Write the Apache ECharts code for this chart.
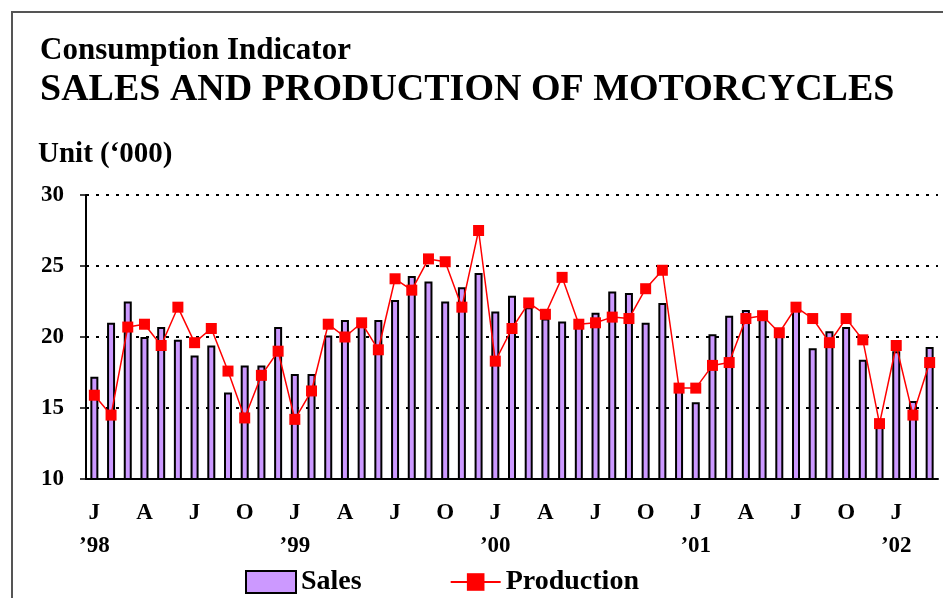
<!DOCTYPE html>
<html>
<head>
<meta charset="utf-8">
<script src="https://cdn.jsdelivr.net/npm/echarts@6/dist/echarts.min.js"></script>
<style>
  html, body { margin: 0; padding: 0; background: #fff; }
  #main { width: 943px; height: 598px; }
</style>
</head>
<body>
<div id="main"></div>
<script>
// month labels shown on the axis (Jan, Apr, Jul, Oct) and years under January
var quarterLetters = ['J', 'A', 'J', 'O']
var years = ['\u201998', '\u201999', '\u201900', '\u201901', '\u201902']
var monthCount = 51 // Jan 1998 - Mar 2002

// Sales ('000 units)
var sales = [
  17.2, 21.0, 22.5, 20.0, 20.7, 19.8, 18.7, 19.4, 16.1, 18.0, 18.0, 20.7,
  17.4, 17.4, 20.1, 21.2, 21.1, 21.2, 22.6, 24.3, 23.9, 22.5, 23.5, 24.5,
  21.8, 22.9, 22.1, 21.3, 21.1, 21.1, 21.7, 23.2, 23.1, 21.0, 22.4, 16.2,
  15.4, 20.2, 21.5, 21.9, 21.3, 20.1, 21.9, 19.2, 20.4, 20.7, 18.4, 13.7,
  19.0, 15.5, 19.3
]
// Production ('000 units)
var production = [
  15.9, 14.5, 20.7, 20.9, 19.4, 22.1, 19.6, 20.6, 17.6, 14.3, 17.3, 19.0,
  14.2, 16.2, 20.9, 20.0, 21.0, 19.1, 24.1, 23.3, 25.5, 25.3, 22.1, 27.5,
  18.3, 20.6, 22.4, 21.6, 24.2, 20.9, 21.0, 21.4, 21.3, 23.4, 24.7, 16.4,
  16.4, 18.0, 18.2, 21.3, 21.5, 20.3, 22.1, 21.3, 19.6, 21.3, 19.8, 13.9,
  19.4, 14.5, 18.2
]

var categories = []
for (var i = 0; i < monthCount; i++) {
  categories.push((1998 + Math.floor(i / 12)) + '-' + (i % 12 + 1))
}

var serif = "'Liberation Serif', 'Times New Roman', serif"

var myChart = echarts.init(document.getElementById('main'))
myChart.setOption({
  animation: false,
  backgroundColor: '#fff',
  graphic: [
    {
      type: 'rect',
      shape: { x: 12, y: 12, width: 1000, height: 1000 },
      style: { fill: 'none', stroke: '#555', lineWidth: 2 }
    }
  ],
  title: [
    {
      text: 'Consumption Indicator',
      left: 35, top: 30,
      textStyle: { fontFamily: serif, fontWeight: 'bold', fontSize: 31, color: '#000' }
    },
    {
      text: 'SALES AND PRODUCTION OF MOTORCYCLES',
      left: 35, top: 66,
      textStyle: { fontFamily: serif, fontWeight: 'bold', fontSize: 38, color: '#000' }
    },
    {
      text: 'Unit (\u2018000)',
      left: 33, top: 135,
      textStyle: { fontFamily: serif, fontWeight: 'bold', fontSize: 29, color: '#000' }
    }
  ],
  legend: {
    left: 240,
    top: 563,
    itemWidth: 50,
    itemHeight: 22,
    itemGap: 88,
    textStyle: { fontFamily: serif, fontWeight: 'bold', fontSize: 28, color: '#000' },
    data: [{ name: 'Sales', icon: 'rect' }, { name: 'Production' }]
  },
  grid: { left: 86, right: 5, top: 195, bottom: 119 },
  xAxis: {
    type: 'category',
    data: categories,
    boundaryGap: true,
    axisLine: { lineStyle: { color: '#000', width: 2 } },
    axisTick: { interval: 0, length: 6, lineStyle: { color: '#000', width: 1.5 } },
    axisLabel: {
      interval: 0,
      margin: 18,
      lineHeight: 33,
      fontFamily: serif,
      fontWeight: 'bold',
      fontSize: 23,
      color: '#000',
      formatter: function (value, index) {
        var m = index % 12
        if (m % 3 !== 0) return ''
        var letter = quarterLetters[m / 3]
        if (m === 0) return letter + '\n' + years[Math.floor(index / 12)]
        return letter
      }
    }
  },
  yAxis: {
    type: 'value',
    min: 10,
    max: 30,
    interval: 5,
    axisLine: { show: true, lineStyle: { color: '#000', width: 2 } },
    axisTick: { show: true, length: 6, lineStyle: { color: '#000', width: 1.5 } },
    axisLabel: {
      margin: 22,
      fontFamily: serif,
      fontWeight: 'bold',
      fontSize: 23,
      color: '#000'
    },
    splitLine: { show: true, lineStyle: { color: '#000', width: 2, type: [3, 7] } }
  },
  series: [
    {
      name: 'Sales',
      type: 'bar',
      data: sales,
      barWidth: 8,
      itemStyle: { color: '#CC99FF', borderColor: '#000', borderWidth: 2 }
    },
    {
      name: 'Production',
      type: 'line',
      data: production,
      symbol: 'rect',
      symbolSize: 11,
      itemStyle: { color: '#FF0000' },
      lineStyle: { color: '#FF0000', width: 1.5 }
    }
  ]
})
</script>
</body>
</html>
